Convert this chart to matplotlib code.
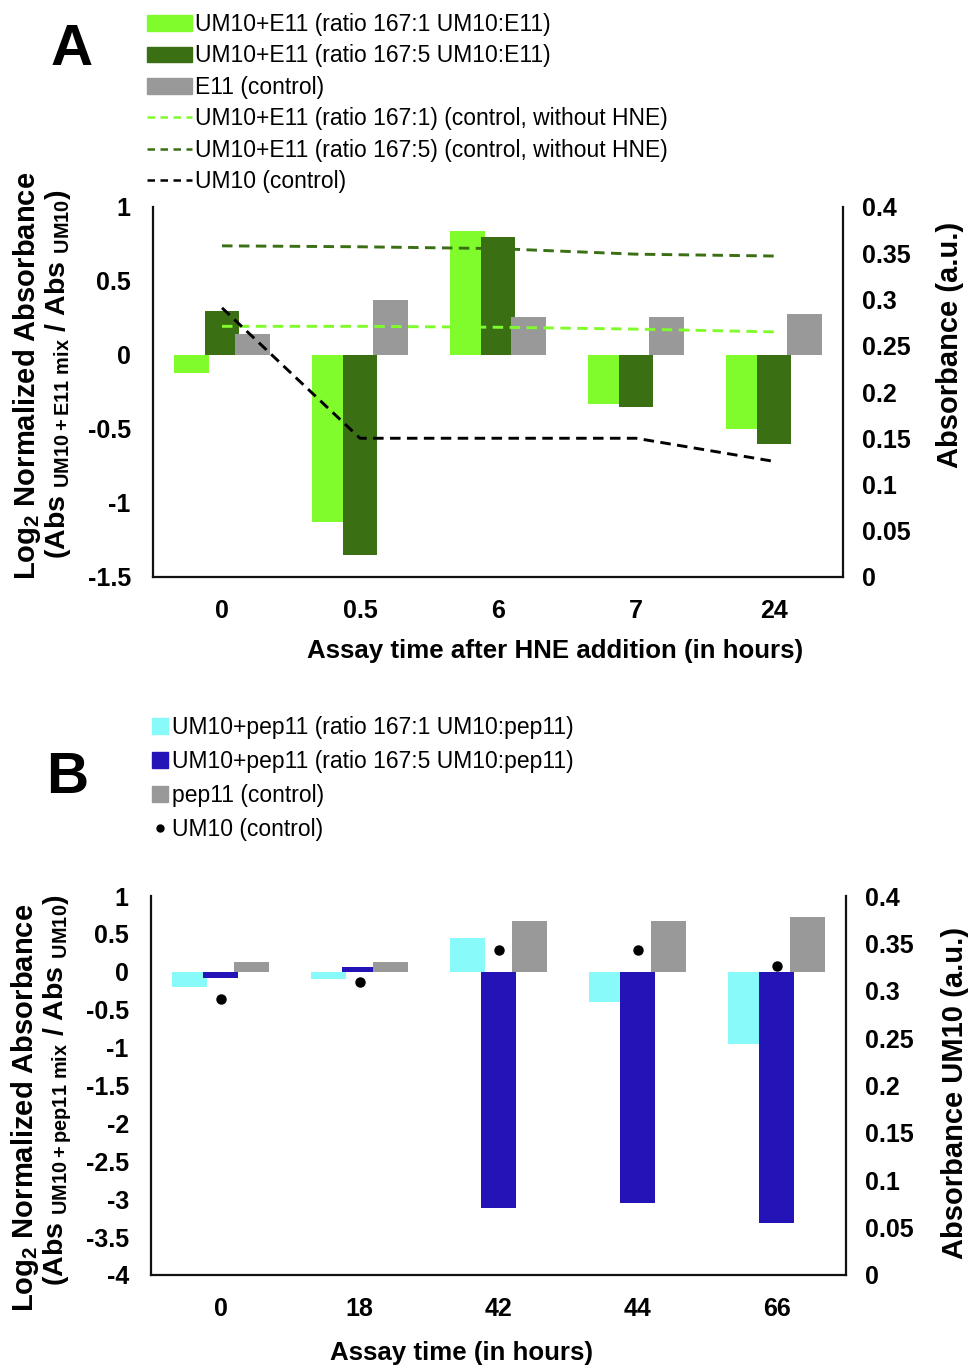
import matplotlib
matplotlib.use("Agg")
import numpy as np
import matplotlib.pyplot as plt
from matplotlib.patches import Patch
from matplotlib.lines import Line2D

plt.rcParams["font.family"] = ["Liberation Sans", "DejaVu Sans"]
plt.rcParams["mathtext.fontset"] = "custom"
plt.rcParams["mathtext.rm"] = "Liberation Sans:bold"
plt.rcParams["mathtext.it"] = "Liberation Sans:bold"
plt.rcParams["mathtext.bf"] = "Liberation Sans:bold"

# panel A data
times_a = ["0", "0.5", "6", "7", "24"]
mix1_a = [-0.12, -1.13, 0.84, -0.33, -0.50]
mix5_a = [0.30, -1.35, 0.80, -0.35, -0.60]
e11_a = [0.14, 0.37, 0.26, 0.26, 0.28]
ctrl1_a = [0.271, 0.271, 0.270, 0.268, 0.265]
ctrl5_a = [0.358, 0.357, 0.355, 0.349, 0.347]
um10_a = [0.291, 0.150, 0.150, 0.150, 0.125]

# panel B data
times_b = ["0", "18", "42", "44", "66"]
mix1_b = [-0.20, -0.10, 0.44, -0.40, -0.95]
mix5_b = [-0.08, 0.06, -3.12, -3.05, -3.31]
pep11_b = [0.13, 0.13, 0.67, 0.67, 0.72]
um10_b = [0.291, 0.309, 0.343, 0.343, 0.326]

LIGHT_GREEN = "#80fc2c"
DARK_GREEN = "#3b6f14"
GRAY = "#999999"
CYAN = "#88fafa"
BLUE = "#2414b8"

W, H = 971, 1367
fig = plt.figure(figsize=(W / 100, H / 100), dpi=100)

TICK_FS = 18
LEG_FS = 16.5
BAR_W = 0.25
STEP = 0.222


def px_rect(x0, y0, x1, y1):
    return [x0 / W, 1 - y1 / H, (x1 - x0) / W, (y1 - y0) / H]


def setup_axes(rect, ylim, yticks, ylim_r, cats):
    ax = fig.add_axes(rect)
    ax.set_xlim(-0.5, len(cats) - 0.5)
    ax.set_ylim(*ylim)
    ax.set_yticks(yticks)
    ax.set_yticklabels([f"{t:g}" for t in yticks], fontsize=TICK_FS, fontweight="bold")
    ax.set_xticks(range(len(cats)))
    ax.set_xticklabels(cats, fontsize=TICK_FS, fontweight="bold")
    axr = ax.twinx()
    axr.set_ylim(*ylim_r)
    rt = np.round(np.arange(0, 0.401, 0.05), 2)
    axr.set_yticks(rt)
    axr.set_yticklabels([f"{t:g}" for t in rt], fontsize=TICK_FS, fontweight="bold")
    for a in (ax, axr):
        for s in a.spines.values():
            s.set_visible(False)
    ax.spines["left"].set_visible(True)
    ax.spines["bottom"].set_visible(True)
    axr.spines["right"].set_visible(True)
    for s in (ax.spines["left"], ax.spines["bottom"], axr.spines["right"]):
        s.set_linewidth(1.6)
        s.set_color("#111111")
    ax.tick_params(axis="y", length=0, pad=16)
    ax.tick_params(axis="x", length=0, pad=16)
    axr.tick_params(axis="y", length=0, pad=14)
    return ax, axr


# ---------------- panel A ----------------
ax, axr = setup_axes(px_rect(153, 207, 843, 577), (-1.5, 1),
                     np.arange(-1.5, 1.01, 0.5), (0, 0.4), times_a)
x = np.arange(len(times_a))
ax.bar(x - STEP, mix1_a, BAR_W, color=LIGHT_GREEN, zorder=2)
ax.bar(x, mix5_a, BAR_W, color=DARK_GREEN, zorder=3)
ax.bar(x + STEP, e11_a, BAR_W, color=GRAY, zorder=4)
dash = (3.6, 2.2)
axr.plot(x, ctrl1_a, color=LIGHT_GREEN, lw=2.1, dashes=dash)
axr.plot(x, ctrl5_a, color=DARK_GREEN, lw=2.1, dashes=dash)
axr.plot(x, um10_a, color="black", lw=2.1, dashes=dash)

handles_a = [
    Patch(color=LIGHT_GREEN), Patch(color=DARK_GREEN), Patch(color=GRAY),
    Line2D([], [], color=LIGHT_GREEN, lw=1.8, dashes=(3, 2.2)),
    Line2D([], [], color=DARK_GREEN, lw=1.8, dashes=(3, 2.2)),
    Line2D([], [], color="black", lw=1.8, dashes=(3, 2.2)),
]
labels_a = [
    "UM10+E11 (ratio 167:1 UM10:E11)",
    "UM10+E11 (ratio 167:5 UM10:E11)",
    "E11 (control)",
    "UM10+E11 (ratio 167:1) (control, without HNE)",
    "UM10+E11 (ratio 167:5) (control, without HNE)",
    "UM10 (control)",
]
fig.legend(handles_a, labels_a, loc="upper left", bbox_to_anchor=(147 / W, 1 - 13 / H),
           frameon=False, fontsize=LEG_FS, handlelength=1.96, handleheight=0.68,
           handletextpad=0.13, labelspacing=0.37, borderpad=0, borderaxespad=0)

fig.text(72 / W, 1 - 50 / H, "A", fontsize=42, fontweight="bold", ha="center", va="center")
fig.text(555 / W, 1 - 651 / H, "Assay time after HNE addition (in hours)",
         fontsize=18.6, fontweight="bold", ha="center", va="center")
fig.text(27 / W, 1 - 376 / H, r"Log$_2$ Normalized Absorbance", rotation=90,
         fontsize=21, fontweight="bold", ha="center", va="center")
fig.text(58 / W, 1 - 374 / H, r"(Abs $_{\rm UM10+E11\ mix}$ / Abs $_{\rm UM10}$)",
         rotation=90, fontsize=20.5, fontweight="bold", ha="center", va="center")
fig.text(950 / W, 1 - 345 / H, "Absorbance (a.u.)", rotation=90,
         fontsize=21, fontweight="bold", ha="center", va="center")

# ---------------- panel B ----------------
ax, axr = setup_axes(px_rect(151, 896, 846, 1275), (-4, 1),
                     np.arange(-4, 1.01, 0.5), (0, 0.4), times_b)
x = np.arange(len(times_b))
ax.bar(x - STEP, mix1_b, BAR_W, color=CYAN, zorder=2)
ax.bar(x, mix5_b, BAR_W, color=BLUE, zorder=3)
ax.bar(x + STEP, pep11_b, BAR_W, color=GRAY, zorder=4)
axr.plot(x, um10_b, "o", color="black", ms=6.5, zorder=5)

handles_b = [
    Patch(color=CYAN), Patch(color=BLUE), Patch(color=GRAY),
    Line2D([], [], color="black", marker="o", ls="none", ms=5),
]
labels_b = [
    "UM10+pep11 (ratio 167:1 UM10:pep11)",
    "UM10+pep11 (ratio 167:5 UM10:pep11)",
    "pep11 (control)",
    "UM10 (control)",
]
fig.legend(handles_b, labels_b, loc="upper left", bbox_to_anchor=(152 / W, 1 - 716 / H),
           frameon=False, fontsize=LEG_FS, handlelength=0.68, handleheight=0.68,
           handletextpad=0.18, labelspacing=0.48, borderpad=0, borderaxespad=0)

fig.text(67 / W, 1 - 778 / H, "B", fontsize=42, fontweight="bold", ha="center", va="center")
fig.text(461 / W, 1 - 1353 / H, "Assay time (in hours)",
         fontsize=18.6, fontweight="bold", ha="center", va="center")
fig.text(25 / W, 1 - 1108 / H, r"Log$_2$ Normalized Absorbance", rotation=90,
         fontsize=21, fontweight="bold", ha="center", va="center")
fig.text(58 / W, 1 - 1090 / H, r"(Abs $_{\rm UM10+pep11\ mix}$ / Abs $_{\rm UM10}$)",
         rotation=90, fontsize=20.5, fontweight="bold", ha="center", va="center")
fig.text(955 / W, 1 - 1093 / H, "Absorbance UM10 (a.u.)", rotation=90,
         fontsize=21, fontweight="bold", ha="center", va="center")

fig.savefig("out.png", dpi=100)
